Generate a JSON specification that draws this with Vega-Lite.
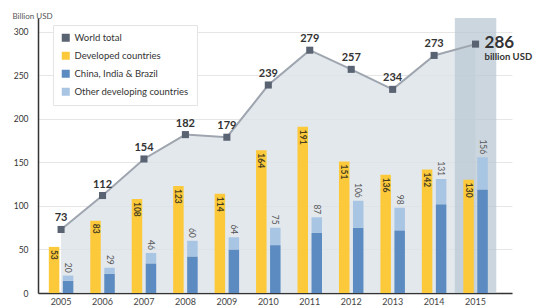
{
  "$schema": "https://vega.github.io/schema/vega-lite/v6.json",
  "autosize": "none",
  "width": 474,
  "height": 275,
  "padding": {"left": 38, "top": 18, "right": 27, "bottom": 13},
  "background": "white",
  "config": {
    "font": "Lato",
    "view": {"stroke": null},
    "axis": {"labelFont": "Lato", "titleFont": "Lato"}
  },
  "datasets": {
    "t": [
      {"year": "2005", "world": 73, "developed": 53, "developing": 20},
      {"year": "2006", "world": 112, "developed": 83, "developing": 29},
      {"year": "2007", "world": 154, "developed": 108, "developing": 46},
      {"year": "2008", "world": 182, "developed": 123, "developing": 60},
      {"year": "2009", "world": 179, "developed": 114, "developing": 64},
      {"year": "2010", "world": 239, "developed": 164, "developing": 75},
      {"year": "2011", "world": 279, "developed": 191, "developing": 87},
      {"year": "2012", "world": 257, "developed": 151, "developing": 106},
      {"year": "2013", "world": 234, "developed": 136, "developing": 98},
      {"year": "2014", "world": 273, "developed": 142, "developing": 131},
      {"year": "2015", "world": 286, "developed": 130, "developing": 156}
    ],
    "d": [
      {"year": "2005", "series": "China, India & Brazil", "value": 14},
      {"year": "2005", "series": "Other developing countries", "value": 6},
      {"year": "2006", "series": "China, India & Brazil", "value": 22},
      {"year": "2006", "series": "Other developing countries", "value": 7},
      {"year": "2007", "series": "China, India & Brazil", "value": 34},
      {"year": "2007", "series": "Other developing countries", "value": 12},
      {"year": "2008", "series": "China, India & Brazil", "value": 42},
      {"year": "2008", "series": "Other developing countries", "value": 18},
      {"year": "2009", "series": "China, India & Brazil", "value": 50},
      {"year": "2009", "series": "Other developing countries", "value": 14},
      {"year": "2010", "series": "China, India & Brazil", "value": 55},
      {"year": "2010", "series": "Other developing countries", "value": 20},
      {"year": "2011", "series": "China, India & Brazil", "value": 69},
      {"year": "2011", "series": "Other developing countries", "value": 18},
      {"year": "2012", "series": "China, India & Brazil", "value": 75},
      {"year": "2012", "series": "Other developing countries", "value": 31},
      {"year": "2013", "series": "China, India & Brazil", "value": 72},
      {"year": "2013", "series": "Other developing countries", "value": 26},
      {"year": "2014", "series": "China, India & Brazil", "value": 102},
      {"year": "2014", "series": "Other developing countries", "value": 29},
      {"year": "2015", "series": "China, India & Brazil", "value": 119},
      {"year": "2015", "series": "Other developing countries", "value": 37}
    ]
  },
  "encoding": {
    "x": {
      "field": "year", "type": "ordinal",
      "scale": {"paddingInner": 0, "paddingOuter": 0.218, "align": 0.13},
      "axis": {
        "title": null, "labelAngle": 0, "ticks": false, "grid": false,
        "domainColor": "#333333", "domainWidth": 1.5,
        "labelColor": "#444444", "labelFontSize": 9, "labelPadding": 4
      }
    }
  },
  "layer": [
    {
      "data": {"name": "t"},
      "mark": {"type": "area", "color": "#dce2e9", "opacity": 0.8},
      "encoding": {
        "y": {
          "field": "world", "type": "quantitative",
          "scale": {"domain": [0, 316], "nice": false},
          "axis": {
            "values": [0, 50, 100, 150, 200, 250, 300],
            "title": "Billion USD", "titleAngle": 0, "titleAlign": "left",
            "titleBaseline": "alphabetic", "titleX": -26, "titleY": 0,
            "titleFontSize": 8, "titleFontWeight": "normal", "titleColor": "#555555",
            "ticks": false, "domainColor": "#333333", "domainWidth": 1.5,
            "gridColor": "#e6e6e6", "labelColor": "#333333", "labelFontSize": 8.5,
            "labelPadding": 10
          }
        }
      }
    },
    {
      "data": {"name": "t"},
      "transform": [{"filter": "datum.year == '2015'"}],
      "mark": {"type": "bar", "color": "#b9c6d2", "opacity": 0.72},
      "encoding": {"y": {"datum": 316, "type": "quantitative"}}
    },
    {
      "data": {"name": "t"},
      "mark": {"type": "line", "color": "#9ea5ae", "strokeWidth": 2},
      "encoding": {"y": {"field": "world", "type": "quantitative"}}
    },
    {
      "data": {"name": "t"},
      "mark": {"type": "bar"},
      "encoding": {
        "xOffset": {"datum": "Developed", "scale": {"domain": ["Developed", "Developing"], "paddingInner": 0.25, "paddingOuter": 0.605}},
        "y": {"field": "developed", "type": "quantitative"},
        "color": {"datum": "Developed countries"}
      }
    },
    {
      "data": {"name": "d"},
      "mark": {"type": "bar"},
      "encoding": {
        "xOffset": {"datum": "Developing"},
        "y": {"field": "value", "type": "quantitative", "stack": "zero"},
        "order": {"field": "series", "sort": "ascending"},
        "color": {
          "field": "series", "type": "nominal",
          "scale": {
            "domain": ["World total", "Developed countries", "China, India & Brazil", "Other developing countries"],
            "range": ["#5a6372", "#fcc93a", "#5b8bc0", "#a8c5e3"]
          },
          "legend": {
            "title": null, "orient": "none", "legendX": 15, "legendY": 7,
            "symbolType": "square", "symbolSize": 64, "symbolStrokeWidth": 0,
            "labelFontSize": 9.5, "labelColor": "#333333", "labelFont": "Lato",
            "padding": 8, "rowPadding": 7, "fillColor": "white", "strokeColor": "#e4e4e4"
          }
        }
      }
    },
    {
      "data": {"name": "t"},
      "mark": {"type": "point", "shape": "square", "filled": true, "size": 50, "opacity": 1},
      "encoding": {
        "y": {"field": "world", "type": "quantitative"},
        "color": {"datum": "World total"}
      }
    },
    {
      "data": {"name": "t"},
      "transform": [{"filter": "datum.year != '2015'"}],
      "mark": {"type": "text", "fontWeight": "bold", "fontSize": 11, "color": "#333333", "dy": -11},
      "encoding": {
        "y": {"field": "world", "type": "quantitative"},
        "text": {"field": "world", "type": "quantitative"}
      }
    },
    {
      "data": {"name": "t"},
      "transform": [{"filter": "datum.year == '2015'"}],
      "mark": {"type": "text", "fontWeight": "bold", "fontSize": 17, "color": "#333333", "align": "left", "baseline": "middle", "dx": 9, "dy": -1},
      "encoding": {
        "y": {"field": "world", "type": "quantitative"},
        "text": {"field": "world", "type": "quantitative"}
      }
    },
    {
      "data": {"name": "t"},
      "transform": [{"filter": "datum.year == '2015'"}],
      "mark": {"type": "text", "fontWeight": "bold", "fontSize": 9.5, "color": "#333333", "align": "left", "baseline": "middle", "dx": 9, "dy": 13},
      "encoding": {
        "y": {"field": "world", "type": "quantitative"},
        "text": {"value": "billion USD"}
      }
    },
    {
      "data": {"name": "t"},
      "mark": {"type": "text", "angle": 90, "align": "left", "baseline": "middle", "dx": 3, "fontSize": 8.5, "fontWeight": "bold", "color": "#4a4020"},
      "encoding": {
        "xOffset": {"datum": "Developed"},
        "y": {"field": "developed", "type": "quantitative"},
        "text": {"field": "developed", "type": "quantitative"}
      }
    },
    {
      "data": {"name": "t"},
      "mark": {"type": "text", "angle": 90, "align": "right", "baseline": "middle", "dx": -3, "fontSize": 8.5, "color": "#555555"},
      "encoding": {
        "xOffset": {"datum": "Developing"},
        "y": {"field": "developing", "type": "quantitative"},
        "text": {"field": "developing", "type": "quantitative"}
      }
    }
  ]
}
